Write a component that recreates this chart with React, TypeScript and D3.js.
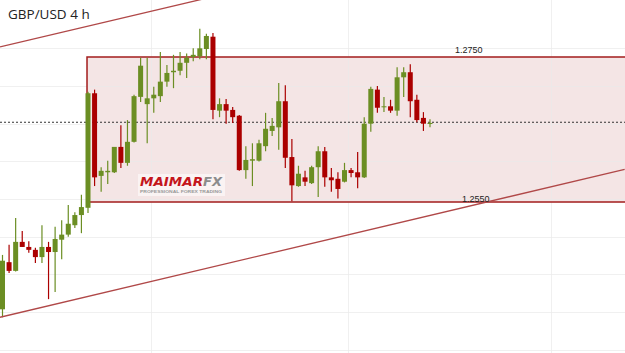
import React from "react";
import * as d3 from "d3";

const W = 625;
const H = 353;

const openP = [1.2402,1.2467,1.2455,1.2495,1.2488,1.2484,1.2474,1.2488,1.2481,1.2498,
1.2505,1.2518,1.2532,1.2542,1.2700,1.2586,1.2591,1.2591,1.2626,1.2604,
1.2633,1.2695,1.2685,1.2693,1.2696,1.2716,1.2729,1.2731,1.2742,1.2750,
1.2751,1.2761,1.2778,1.2676,1.2685,1.2677,1.2669,1.2594,1.2607,1.2607,
1.2627,1.2648,1.2653,1.2689,1.2612,1.2572,1.2584,1.2576,1.2598,1.2620,
1.2584,1.2582,1.2578,1.2594,1.2591,1.2584,1.2658,1.2705,1.2681,1.2682,
1.2676,1.2722,1.2729,1.2691,1.2666,1.2658];

const highP = [1.2477,1.2491,1.2528,1.2510,1.2496,1.2487,1.2518,1.2495,1.2516,1.2525,
1.2546,1.2536,1.2560,1.2702,1.2705,1.2598,1.2607,1.2626,1.2656,1.2663,
1.2698,1.2749,1.2749,1.2709,1.2757,1.2739,1.2753,1.2757,1.2755,1.2762,
1.2789,1.2782,1.2783,1.2693,1.2692,1.2681,1.2670,1.2627,1.2631,1.2636,
1.2673,1.2666,1.2714,1.2711,1.2637,1.2600,1.2593,1.2600,1.2627,1.2626,
1.2597,1.2591,1.2604,1.2597,1.2619,1.2667,1.2709,1.2710,1.2695,1.2691,
1.2736,1.2736,1.2740,1.2698,1.2674,1.2664];

const lowP = [1.2391,1.2452,1.2454,1.2488,1.2480,1.2466,1.2466,1.2416,1.2426,1.2471,
1.2502,1.2514,1.2507,1.2535,1.2572,1.2564,1.2575,1.2590,1.2597,1.2600,
1.2632,1.2688,1.2631,1.2673,1.2688,1.2709,1.2707,1.2725,1.2721,1.2744,
1.2747,1.2747,1.2664,1.2667,1.2658,1.2659,1.2593,1.2582,1.2572,1.2606,
1.2620,1.2641,1.2622,1.2597,1.2551,1.2571,1.2572,1.2575,1.2557,1.2571,
1.2564,1.2555,1.2577,1.2584,1.2569,1.2583,1.2647,1.2673,1.2674,1.2673,
1.2669,1.2695,1.2667,1.2660,1.2648,1.2653];

const closeP = [1.2469,1.2455,1.2495,1.2488,1.2484,1.2474,1.2488,1.2481,1.2499,1.2505,
1.2520,1.2532,1.2543,1.2700,1.2584,1.2593,1.2593,1.2626,1.2604,1.2633,
1.2696,1.2738,1.2693,1.2698,1.2716,1.2728,1.2731,1.2742,1.2749,1.2753,
1.2762,1.2779,1.2677,1.2685,1.2676,1.2667,1.2594,1.2608,1.2609,1.2631,
1.2651,1.2655,1.2689,1.2611,1.2573,1.2589,1.2578,1.2598,1.2620,1.2584,
1.2580,1.2568,1.2594,1.2590,1.2584,1.2658,1.2706,1.2680,1.2682,1.2676,
1.2722,1.2729,1.2689,1.2663,1.2658,1.2659];

// Range box levels and labels
const rangeTop = 1.2750;
const rangeBottom = 1.2550;
const rangeStartIndex = 12.85;
const rangeLabels = ["1.2750", "1.2550"];
const currentPrice = 1.2660;

// Channel trend lines as [candle index, price]
const lowerTrend: [number, number][] = [[-0.38, 1.2391], [94.6, 1.2595]];
const upperTrend: [number, number][] = [[-0.38, 1.2764], [94.6, 1.2967]];

// faint grid
const gridPrices = [1.2762, 1.2710, 1.2658, 1.2606, 1.2554, 1.2502, 1.2450, 1.2398, 1.2346, 1.2294];
const gridIndices = [22.6, 52.6, 83.4];

const title = "GBP/USD 4 h";
const logoMain = "MAIMAR";
const logoFx = "FX";
const logoTag = "PROFESSIONAL FOREX TRADING";

const GREEN = "#6b8e23";
const RED = "#ab0000";

export default function App() {
  const x = d3.scaleLinear().domain([0, openP.length - 1]).range([2.5, 430]);
  const y = d3.scaleLinear().domain([rangeBottom, rangeTop]).range([202, 57]);
  const line = d3
    .line<[number, number]>()
    .x((d) => x(d[0]))
    .y((d) => y(d[1]));
  const bodyW = 5;

  return (
    <svg
      width={W}
      height={H}
      viewBox={`0 0 ${W} ${H}`}
      style={{ position: "absolute", left: 0, top: 0, background: "#fff" }}
    >
      <defs>
        <clipPath id="clip">
          <rect x={0} y={0} width={W} height={H} />
        </clipPath>
      </defs>
      <rect x={0} y={0} width={W} height={H} fill="#fff" />
      <g clipPath="url(#clip)">
        {/* range box fill */}
        <rect
          x={x(rangeStartIndex)}
          y={y(rangeTop)}
          width={W + 10 - x(rangeStartIndex)}
          height={y(rangeBottom) - y(rangeTop)}
          fill="#f4e5e5"
        />
        {gridPrices.map((p, i) => (
          <line key={"gh" + i} x1={0} x2={W} y1={Math.round(y(p)) + 0.5} y2={Math.round(y(p)) + 0.5} stroke="#e9e9e9" strokeOpacity={0.7} strokeWidth={1} />
        ))}
        {gridIndices.map((g, i) => (
          <line key={"gv" + i} x1={Math.round(x(g)) + 0.5} x2={Math.round(x(g)) + 0.5} y1={0} y2={H} stroke="#e9e9e9" strokeOpacity={0.7} strokeWidth={1} />
        ))}
        {/* range box border */}
        <rect
          x={x(rangeStartIndex)}
          y={y(rangeTop)}
          width={W + 10 - x(rangeStartIndex)}
          height={y(rangeBottom) - y(rangeTop)}
          fill="none"
          stroke="#a31c1c"
          strokeWidth={1.5}
        />

        {/* current price dotted */}
        <line x1={0} x2={W} y1={y(currentPrice)} y2={y(currentPrice)} stroke="#333" strokeWidth={1} strokeDasharray="2,2" />

        {/* logo */}
        <g>
          <rect x={138} y={174} width={87} height={22} fill="#fff" fillOpacity={0.55} />
          <text
            x={140}
            y={185.5}
            fontFamily="'DejaVu Sans', sans-serif"
            fontWeight="bold"
            fontStyle="italic"
            fontSize={11.5}
            fill="#c4161c"
            textLength={63}
            lengthAdjust="spacingAndGlyphs"
          >
            {logoMain}
          </text>
          <text
            x={203}
            y={185.5}
            fontFamily="'DejaVu Sans', sans-serif"
            fontWeight="bold"
            fontStyle="italic"
            fontSize={11.5}
            fill="#8c8c8c"
            textLength={19}
            lengthAdjust="spacingAndGlyphs"
          >
            {logoFx}
          </text>
          <text
            x={140}
            y={193}
            fontFamily="'Liberation Sans', Arial, sans-serif"
            fontWeight="bold"
            fontSize={4.2}
            fill="#999"
            textLength={82}
            lengthAdjust="spacingAndGlyphs"
          >
            {logoTag}
          </text>
        </g>

        {/* candles */}
        {openP.map((o, i) => {
          const c = closeP[i];
          const up = c >= o;
          const col = up ? GREEN : RED;
          const cx = x(i);
          const top = y(Math.max(o, c));
          const bot = y(Math.min(o, c));
          const h = Math.max(1, bot - top);
          return (
            <g key={"c" + i}>
              <line x1={cx} x2={cx} y1={y(highP[i])} y2={y(lowP[i])} stroke={col} strokeWidth={1.2} />
              <rect x={cx - bodyW / 2} y={top} width={bodyW} height={h} fill={col} />
            </g>
          );
        })}

        {/* trend lines */}
        <path d={line(lowerTrend) || ""} fill="none" stroke="#b04848" strokeWidth={1.3} />
        <path d={line(upperTrend) || ""} fill="none" stroke="#b04848" strokeWidth={1.3} />

        {/* level labels */}
        <text x={455} y={53} fontFamily="'Liberation Sans', Arial, sans-serif" fontSize={9} fill="#222">
          {rangeLabels[0]}
        </text>
        <text x={462} y={202} fontFamily="'Liberation Sans', Arial, sans-serif" fontSize={9} fill="#222">
          {rangeLabels[1]}
        </text>

        <text x={8} y={19} fontFamily="'Open Sans', sans-serif" fontSize={13.5} fill="#222">
          {title}
        </text>
      </g>
    </svg>
  );
}
